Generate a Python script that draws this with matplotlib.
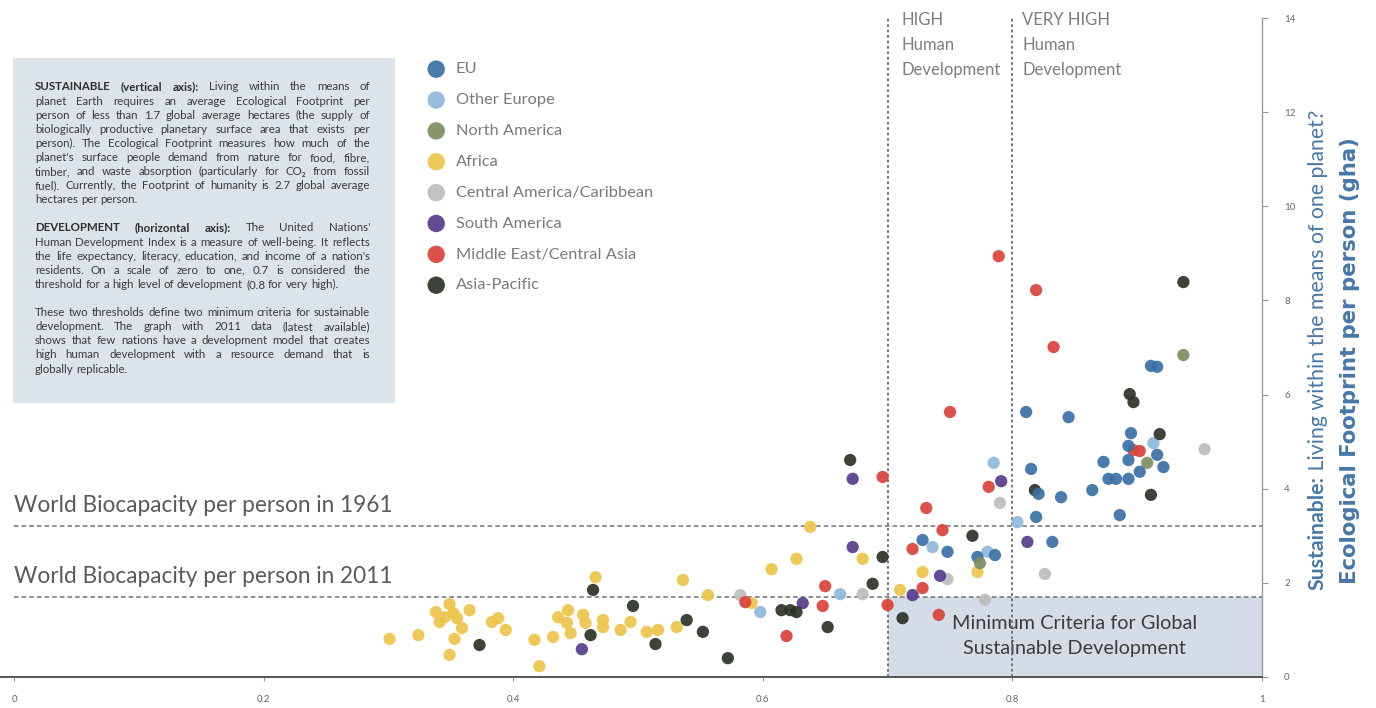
import matplotlib.pyplot as plt
from matplotlib.patches import Rectangle

plt.rcParams['font.family'] = ['Lato', 'DejaVu Sans']

regions = ["EU", "Other Europe", "North America", "Africa",
           "Central America/Caribbean", "South America",
           "Middle East/Central Asia", "Asia-Pacific"]
colors = ["#3a70a6", "#8fb9da", "#7e8e5e", "#edc54c",
          "#bdbdbd", "#563d8c", "#d9433a", "#2d3328"]

# Human Development Index (x) and Ecological Footprint, gha per person (y)
eu_hdi = [.911, .916, .811, .845, .895, .893, .916, .873, .893, .921, .902, .815, .877,
          .883, .893, .821, .839, .864, .819, .886, .832, .728, .748, .786, .772]
eu_fp = [6.61, 6.59, 5.63, 5.52, 5.18, 4.91, 4.72, 4.57, 4.61, 4.46, 4.36, 4.42, 4.21,
         4.21, 4.21, 3.89, 3.82, 3.97, 3.40, 3.44, 2.87, 2.91, 2.66, 2.59, 2.55]

oe_hdi = [.785, .913, .736, .780, .598, .804, .662]
oe_fp = [4.55, 4.97, 2.76, 2.66, 1.38, 3.29, 1.76]

na_hdi = [.937, .908, .774]
na_fp = [6.84, 4.55, 2.42]

af_hdi = [.301, .324, .338, .349, .345, .352, .355, .341, .365, .353,
          .349, .383, .388, .394, .466, .436, .443, .446, .432, .417,
          .421, .456, .458, .472, .472, .486, .494, .507, .516, .531,
          .536, .556, .607, .627, .638, .680, .591, .728, .710, .772,
          .359, .444]
af_fp = [.81, .89, 1.38, 1.55, 1.27, 1.36, 1.25, 1.17, 1.42, .81,
         .47, 1.17, 1.25, 1.00, 2.12, 1.27, 1.15, .93, .85, .79,
         .23, 1.32, 1.15, 1.21, 1.06, 1.00, 1.17, .96, 1.00, 1.06,
         2.06, 1.74, 2.29, 2.51, 3.19, 2.51, 1.57, 2.23, 1.85, 2.23,
         1.04, 1.42]

ca_hdi = [.954, .790, .778, .680, .582, .748, .826]
ca_fp = [4.84, 3.70, 1.64, 1.76, 1.74, 2.08, 2.19]

sa_hdi = [.672, .672, .791, .742, .720, .632, .455, .812]
sa_fp = [4.21, 2.76, 4.16, 2.15, 1.74, 1.57, .59, 2.87]

me_hdi = [.789, .819, .833, .750, .696, .781, .731, .744, .720, .650, .648, .619,
          .700, .741, .728, .586, .902, .897]
me_fp = [8.94, 8.22, 7.01, 5.63, 4.25, 4.04, 3.59, 3.12, 2.72, 1.93, 1.51, .87,
         1.53, 1.32, 1.89, 1.59, 4.80, 4.82]

ap_hdi = [.373, .464, .496, .462, .514, .539, .552, .670, .696, .688, .615, .622,
          .627, .652, .572, .768, .712, .937, .894, .897, .918, .818, .911]
ap_fp = [.68, 1.85, 1.51, .89, .70, 1.21, .96, 4.61, 2.55, 1.98, 1.42, 1.42,
         1.38, 1.06, .40, 3.00, 1.25, 8.39, 6.01, 5.84, 5.16, 3.97, 3.87]

series = [(eu_hdi, eu_fp), (oe_hdi, oe_fp), (na_hdi, na_fp), (af_hdi, af_fp),
          (ca_hdi, ca_fp), (sa_hdi, sa_fp), (me_hdi, me_fp), (ap_hdi, ap_fp)]

biocap_1961 = 3.2
biocap_2011 = 1.7
hdi_high = 0.7
hdi_very_high = 0.8

W, H = 1376, 708
fig = plt.figure(figsize=(W / 100, H / 100), dpi=100)
ax = fig.add_axes([0, 31 / H, 1262 / W, 659 / H])
ax.set_facecolor("none")
ax.set_xlim(-14 / 1248, 1)
ax.set_ylim(0, 14)

# sustainable development quadrant
ax.add_patch(Rectangle((hdi_high, 0), 1 - hdi_high, biocap_2011,
                       facecolor="#d5dce8", edgecolor="none", zorder=0))
ax.text(0.85, 0.87, "Minimum Criteria for Global\nSustainable Development",
        ha="center", va="center", fontsize=14.3, color="#3c3c3c",
        linespacing=1.55, zorder=1)

for yv in (biocap_1961, biocap_2011):
    ax.hlines(yv, 0, 1, colors="#707070", linestyles=(0, (3, 2)), lw=1.1, zorder=1)
for xv in (hdi_high, hdi_very_high):
    ax.vlines(xv, 0, 14, colors="#6a6a6a", linestyles=(0, (1.5, 1.5)), lw=1.3, zorder=1)

ax.text(0, biocap_1961 + 0.22, "World Biocapacity per person in 1961",
        fontsize=16.3, color="#5a5a5a", va="bottom", ha="left")
ax.text(0, biocap_2011 + 0.22, "World Biocapacity per person in 2011",
        fontsize=16.3, color="#5a5a5a", va="bottom", ha="left")

ax.text(hdi_high + 0.011, 14.12, "HIGH\nHuman\nDevelopment", fontsize=12,
        color="#7e7e7e", va="top", ha="left", linespacing=1.68)
ax.text(hdi_very_high + 0.008, 14.12, "VERY HIGH\nHuman\nDevelopment", fontsize=12,
        color="#7e7e7e", va="top", ha="left", linespacing=1.68)

draw_order = [3, 4, 1, 5, 7, 6, 0, 2]
handles = {}
for i in draw_order:
    xs, ys = series[i]
    handles[i] = ax.scatter(xs, ys, s=78, color=colors[i], alpha=0.92,
                            edgecolors="none", zorder=3, label=regions[i])

leg = ax.legend([handles[i] for i in range(8)], regions, loc="upper left",
                bbox_to_anchor=(428 / W, 1 - 62 / H), bbox_transform=fig.transFigure,
                frameon=False, fontsize=11.8, labelspacing=1.0, markerscale=1.42,
                handletextpad=0.7, handlelength=1.0, borderpad=0, borderaxespad=0)
for t in leg.get_texts():
    t.set_color("#7a7a7a")

# axes styling
for side in ("left", "top"):
    ax.spines[side].set_visible(False)
ax.spines["bottom"].set_color("#555555")
ax.spines["bottom"].set_linewidth(1.4)
ax.spines["right"].set_color("#9a9a9a")
ax.spines["right"].set_linewidth(1.0)
ax.yaxis.tick_right()
ax.set_yticks(range(0, 15, 2))
ax.set_xticks([0, 0.2, 0.4, 0.6, 0.8, 1])
ax.set_xticklabels(["0", "0.2", "0.4", "0.6", "0.8", "1"])
ax.tick_params(axis="y", colors="#9a9a9a", labelcolor="#666666", labelsize=7,
               length=4, pad=12)
ax.tick_params(axis="x", colors="#9a9a9a", labelcolor="#666666", labelsize=7,
               length=3, pad=10)

# right-hand axis title
blue = "#4677a8"
t1 = fig.text(1318 / W, 1 - 590 / H, "Sustainable:", rotation=90, fontsize=15.3,
              fontweight="bold", color=blue, ha="center", va="bottom")
ax.annotate(" Living within the means of one planet?", xy=(0.5, 1), xycoords=t1,
            rotation=90, fontsize=15.3, color=blue, ha="center", va="bottom")
fig.text(1350 / W, 1 - 584 / H, "Ecological Footprint per person (gha)", rotation=90,
         fontsize=15.3, fontweight="bold", color=blue, ha="center", va="bottom",
         family="DejaVu Sans")

# explanatory box, justified line by line
fig.patches.append(Rectangle((13 / W, 1 - 403 / H), 382 / W, 345 / H,
                             transform=fig.transFigure, facecolor="#dde3eb",
                             edgecolor="none", zorder=-1))
box_lines = [
    ("SUSTAINABLE (vertical axis):", "Living within the means of"),
    ("", "planet Earth requires an average Ecological Footprint per"),
    ("", "person of less than 1.7 global average hectares (the supply of"),
    ("", "biologically productive planetary surface area that exists per"),
    ("", "person). The Ecological Footprint measures how much of the"),
    ("", "planet's surface people demand from nature for food, fibre,"),
    ("", "timber, and waste absorption (particularly for CO\u2082 from fossil"),
    ("", "fuel). Currently, the Footprint of humanity is 2.7 global average"),
    ("", "hectares per person."),
    None,
    ("DEVELOPMENT (horizontal axis):", "The United Nations'"),
    ("", "Human Development Index is a measure of well-being. It reflects"),
    ("", "the life expectancy, literacy, education, and income of a nation's"),
    ("", "residents. On a scale of zero to one, 0.7 is considered the"),
    ("", "threshold for a high level of development (0.8 for very high)."),
    None,
    ("", "These two thresholds define two minimum criteria for sustainable"),
    ("", "development. The graph with 2011 data (latest available)"),
    ("", "shows that few nations have a development model that creates"),
    ("", "high human development with a resource demand that is"),
    ("", "globally replicable."),
]
renderer = fig.canvas.get_renderer()
box_left, box_right = 35, 370
y_px = 87
for n, line in enumerate(box_lines):
    if line is not None:
        bold, rest = line
        tokens = [(w, True) for w in bold.split()] + [(w, False) for w in rest.split()]
        words = []
        for w, b in tokens:
            words.append(fig.text(0, 1 - y_px / H, w, fontsize=8.3,
                                  fontweight="bold" if b else "normal",
                                  color="#2e2e2e" if b else "#3a3a3a",
                                  va="center", ha="left"))
        widths = [t.get_window_extent(renderer).width for t in words]
        last = n + 1 == len(box_lines) or box_lines[n + 1] is None
        gap = 3.0 if last else (box_right - box_left - sum(widths)) / (len(words) - 1)
        x = box_left
        for t, w in zip(words, widths):
            t.set_x(x / W)
            x += w + gap
    y_px += 14.1

fig.savefig("out.png", dpi=100)
